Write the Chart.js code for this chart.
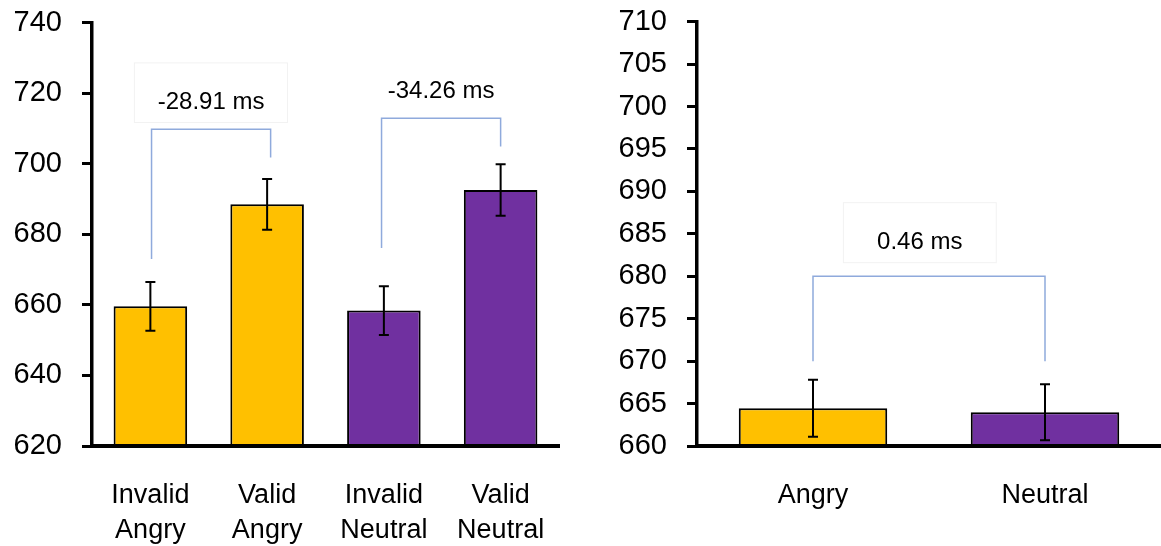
<!DOCTYPE html>
<html><head><meta charset="utf-8">
<script src="https://cdn.jsdelivr.net/npm/chart.js@4.4.1/dist/chart.umd.min.js"></script>
<style>
html,body{margin:0;padding:0;background:#fff;width:1161px;height:546px;overflow:hidden}
#l{position:absolute;left:0;top:0;width:580px;height:546px}
#r{position:absolute;left:580px;top:0;width:581px;height:546px}
</style></head><body>
<div id="l"><canvas id="cl"></canvas></div>
<div id="r"><canvas id="cr"></canvas></div>
<script>
// ---- data ----
const leftCategories = [['Invalid','Angry'],['Valid','Angry'],['Invalid','Neutral'],['Valid','Neutral']];
const leftMeans = [659.6, 688.5, 658.4, 692.6];
const leftErrors = [6.9, 7.2, 6.9, 7.3];
const leftYTicks = [620, 640, 660, 680, 700, 720, 740];

const rightCategories = ['Angry','Neutral'];
const rightMeans = [664.45, 663.99];
const rightErrors = [3.35, 3.3];
const rightYTicks = [660, 665, 670, 675, 680, 685, 690, 695, 700, 705, 710];

const leftDiffLabels = ['-28.91 ms', '-34.26 ms'];
const rightDiffLabels = ['0.46 ms'];

// ---- annotation placement (data units) ----
const leftBrackets = [
  {from:0.01, to:1.03, top:709.8, fromEnd:673.0, toEnd:701.8, labelX:0.52, labelY:717.3, label:leftDiffLabels[0],
   box:{x1:-0.137, x2:1.174, y1:728.6, y2:711.7}},
  {from:1.98, to:3.0, top:712.9, fromEnd:676.1, toEnd:704.9, labelX:2.49, labelY:720.6, label:leftDiffLabels[1]}
];
const rightBrackets = [
  {from:0, to:1, top:680.0, fromEnd:670.0, toEnd:670.0, labelX:0.46, labelY:684.0, label:rightDiffLabels[0],
   box:{x1:0.131, x2:0.79, y1:688.67, y2:681.6}}
];

// ---- styles ----
const YELLOW = '#FFC000', PURPLE = '#7030A0';
const FONT = '"Liberation Sans", Arial, sans-serif';

const overlay = {
  id: 'overlay',
  afterDatasetsDraw(chart, args, opts) {
    const {ctx, scales: {x, y}} = chart;
    const means = chart.data.datasets[0].data;
    ctx.save();
    opts.brackets.forEach(bk => {
      if (!bk.box) return;
      ctx.strokeStyle = '#f2f2f2'; ctx.lineWidth = 1;
      const bx1 = x.getPixelForValue(bk.box.x1), bx2 = x.getPixelForValue(bk.box.x2);
      const by1 = y.getPixelForValue(bk.box.y1), by2 = y.getPixelForValue(bk.box.y2);
      ctx.strokeRect(bx1, by1, bx2 - bx1, by2 - by1);
    });
    ctx.strokeStyle = '#000'; ctx.lineWidth = 2;
    means.forEach((m, i) => {
      const px = x.getPixelForValue(i);
      const t = y.getPixelForValue(m + opts.errors[i]);
      const b = y.getPixelForValue(m - opts.errors[i]);
      ctx.beginPath();
      ctx.moveTo(px, t); ctx.lineTo(px, b);
      ctx.moveTo(px - 5, t); ctx.lineTo(px + 5, t);
      ctx.moveTo(px - 5, b); ctx.lineTo(px + 5, b);
      ctx.stroke();
    });
    opts.brackets.forEach(bk => {
      ctx.strokeStyle = '#8FAADC'; ctx.lineWidth = 1.5;
      const x1 = x.getPixelForValue(bk.from), x2 = x.getPixelForValue(bk.to);
      const yt = y.getPixelForValue(bk.top);
      ctx.beginPath();
      ctx.moveTo(x1, y.getPixelForValue(bk.fromEnd));
      ctx.lineTo(x1, yt); ctx.lineTo(x2, yt);
      ctx.lineTo(x2, y.getPixelForValue(bk.toEnd));
      ctx.stroke();
      ctx.fillStyle = '#000';
      ctx.font = '24px ' + FONT;
      ctx.textAlign = 'center'; ctx.textBaseline = 'middle';
      ctx.fillText(bk.label, x.getPixelForValue(bk.labelX), y.getPixelForValue(bk.labelY));
    });
    ctx.restore();
  }
};

function makeChart(id, cats, means, errs, colors, yTicks, yWidth, pad, barPct, brackets) {
  return new Chart(document.getElementById(id), {
    type: 'bar',
    data: {
      labels: cats,
      datasets: [{
        data: means,
        backgroundColor: colors,
        borderColor: '#000',
        borderWidth: 2,
        barPercentage: barPct,
        categoryPercentage: 1
      }]
    },
    options: {
      responsive: true, maintainAspectRatio: false, animation: false,
      layout: {padding: pad},
      plugins: {legend: {display: false}, tooltip: {enabled: false},
        overlay: {errors: errs, brackets: brackets}},
      scales: {
        x: {
          grid: {display: false, drawTicks: false},
          border: {display: true, color: '#000', width: 4, z: 1},
          ticks: {color: '#000', padding: 32, font: {family: FONT, size: 27, lineHeight: 1.3}, maxRotation: 0, autoSkip: false},
          afterFit: s => { s.height = 100; s.paddingLeft = 0; s.paddingRight = 0; }
        },
        y: {
          min: yTicks[0], max: yTicks[yTicks.length - 1],
          afterBuildTicks: s => { s.ticks = yTicks.map(v => ({value: v})); },
          grid: {display: true, drawOnChartArea: false, drawTicks: true, tickLength: 10, tickWidth: 3, tickColor: '#000'},
          border: {display: true, color: '#000', width: 3.5, z: 1},
          ticks: {color: '#000', padding: 20, font: {family: FONT, size: 29}},
          afterFit: s => { s.width = yWidth; s.paddingTop = 0; s.paddingBottom = 0; }
        }
      }
    },
    plugins: [overlay]
  });
}

makeChart('cl', leftCategories, leftMeans, leftErrors, [YELLOW, YELLOW, PURPLE, PURPLE],
  leftYTicks, 92, {top: 22.7, right: 21, bottom: 0, left: 0}, 0.63, leftBrackets);
makeChart('cr', rightCategories, rightMeans, rightErrors, [YELLOW, PURPLE],
  rightYTicks, 117, {top: 21.7, right: 0, bottom: 0, left: 0}, 0.64, rightBrackets);
</script>
</body></html>
